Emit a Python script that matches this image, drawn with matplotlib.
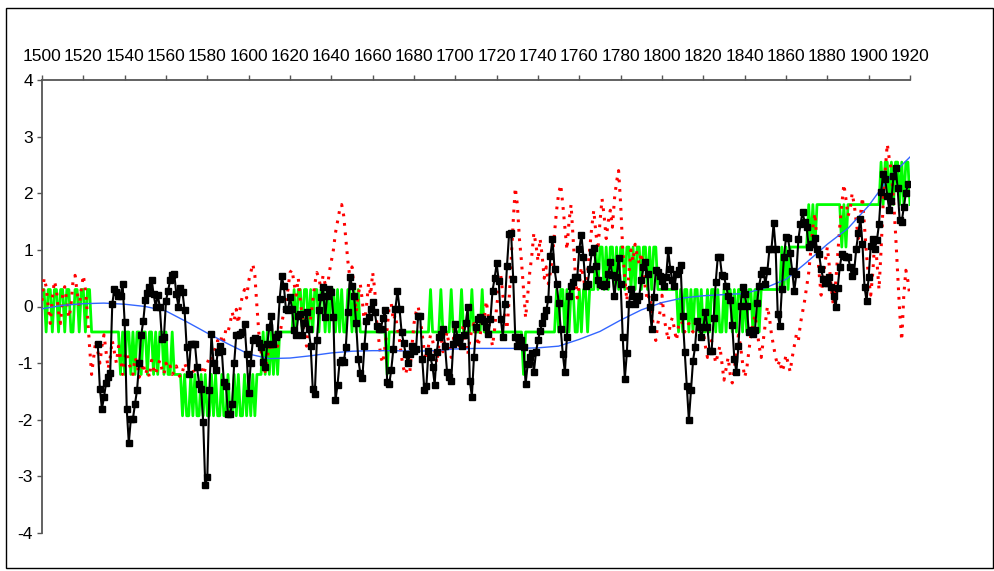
import numpy as np
import matplotlib
matplotlib.use('Agg')
import matplotlib.pyplot as plt
from matplotlib.patches import Rectangle

plt.rcParams['font.family'] = ['Liberation Sans', 'DejaVu Sans']
plt.rcParams['axes.unicode_minus'] = False

# --- data ---
black_start = 1527
black_vals = [
    -0.67, -1.45, -1.81,
    -1.60, -1.35, -1.25, -1.17, 0.04, 0.31, 0.25, 0.19, 0.19, 0.40,
    -0.28, -1.81, -2.41, -1.98, -1.98, -1.72, -1.47, -1.00, -0.50, -0.26,
    0.12, 0.24, 0.35, 0.47, 0.22, 0.00, 0.20, 0.00, -0.57, -0.54,
    0.10, 0.28, 0.46, 0.55, 0.57, 0.22, 0.00, 0.33, 0.25, -0.07,
    -0.72, -1.20, -0.66, -0.66, -0.66, -1.07, -1.36, -1.45, -2.04, -3.16,
    -3.01, -1.48, -0.48, -1.00, -1.13, -0.81, -0.69, -0.78, -1.34, -1.40,
    -1.90, -1.90, -1.72, -1.00, -0.50, -0.51, -0.48, -0.45, -0.31, -0.84,
    -1.53, -1.00, -0.60, -0.55, -0.57, -0.65, -0.72, -0.98, -1.07, -0.66,
    -0.37, -0.16, -0.66, -0.54, -0.48, 0.13, 0.53, 0.37, -0.04, -0.07,
    0.17, -0.04, -0.42, -0.51, -0.16, -0.13, -0.51, -0.30, -0.10, -0.39,
    -0.69, -1.45, -1.54, -0.60, -0.07, 0.16, 0.34, -0.19, 0.19, 0.31,
    0.26, -0.19, -1.66, -1.38, -0.98, -0.95, -0.98, -0.72, -0.10, 0.52,
    0.37, 0.19, -0.30, -0.92, -1.17, -1.27, -0.70, -0.25, -0.18, -0.05,
    0.08, -0.10, -0.34, -0.39, -0.39, -0.20, -0.07, -1.34, -1.37, -1.12,
    -0.75, -0.04, 0.28, -0.04, -0.45, -0.65, -0.84, -1.00, -0.84, -0.69,
    -0.78, -0.75, -0.16, -0.16, -0.93, -1.48, -1.40, -0.78, -0.90, -1.07,
    -1.38, -0.81, -0.54, -0.48, -0.40, -0.69, -1.16, -1.25, -1.32, -0.66,
    -0.31, -0.54, -0.62, -0.69, -0.51, -0.30, -0.01, -1.31, -1.59, -0.90,
    -0.36, -0.22, -0.19, -0.22, -0.25, -0.36, -0.48, -0.22, 0.28, 0.50,
    0.76, 0.45, -0.22, -0.54, 0.05, 0.72, 1.28, 1.29, 0.49, -0.54,
    -0.69, -0.54, -0.60, -0.72, -1.37, -1.02, -0.90, -0.83, -1.16, -0.81,
    -0.60, -0.43, -0.30, -0.16, -0.07, 0.13, 0.90, 1.19, 0.66, 0.40,
    0.07, -0.40, -0.84, -1.16, -0.54, 0.19, 0.37, 0.43, 0.52, 0.52,
    1.02, 1.27, 0.87, 0.37, 0.40, 0.66, 0.96, 1.04, 0.72, 0.46,
    0.40, 0.38, 0.37, 0.40, 0.57, 0.78, 0.55, 0.18, 0.52, 0.86,
    0.40, -0.54, -1.28, -0.82, 0.04, 0.31, 0.19, 0.04, 0.12, 0.19,
    0.46, 0.69, 0.78, 0.57, 0.00, -0.39, 0.17, 0.64, 0.61, 0.54,
    0.45, 0.37, 0.52, 1.00, 0.66, 0.46, 0.37, 0.57, 0.65, 0.73,
    -0.16, -0.80, -1.40, -2.01, -1.48, -0.97, -0.71, -0.25, -0.37, -0.53,
    -0.37, -0.10, -0.37, -0.79, -0.79, -0.20, 0.43, 0.88, 0.87, 0.55,
    0.53, 0.36, 0.19, 0.12, -0.33, -0.93, -1.15, -0.69, 0.01, 0.35,
    0.22, 0.01, -0.45, -0.42, -0.48, -0.42, 0.07, 0.37, 0.57, 0.65,
    0.40, 0.63, 1.02, 1.02, 1.47, 1.02, -0.14, -0.34, 0.31, 0.87,
    1.22, 1.21, 0.94, 0.63, 0.27, 0.57, 1.19, 1.45, 1.67, 1.49,
    1.40, 1.05, 1.10, 1.10, 1.21, 1.02, 0.93, 0.66, 0.49, 0.41,
    0.41, 0.52, 0.35, 0.18, -0.01, 0.33, 0.69, 0.92, 0.90, 0.87,
    0.88, 0.70, 0.53, 0.63, 1.02, 1.30, 1.55, 1.10, 0.34, 0.10,
    0.52, 1.07, 1.19, 1.02, 1.17, 1.46, 2.02, 2.34, 2.25, 1.96,
    1.70, 1.87, 2.30, 2.45, 2.10, 1.52, 1.49, 1.76, 2.00, 2.16,
]

red_start = 1500
red_vals = [
    0.10, 0.50, 0.35, 0.00, -0.30, 0.15, 0.45, 0.30, -0.10, -0.30,
    0.20, 0.35, 0.10, -0.20, 0.00, 0.45, 0.55, 0.25, 0.00, 0.30,
    0.55, 0.30, -0.15, -0.70, -1.20, -0.90, -0.60, -0.80, -1.00, -0.70,
    -0.50, -0.80, -1.10, -0.90, -0.60, -0.80, -1.00, -0.70, -0.90, -1.20,
    -0.90, -0.80, -1.00, -1.10, -1.20, -0.90, -1.00, -1.25, -1.15, -1.00,
    -1.20, -1.10, -1.25, -0.95, -1.10, -1.20, -1.05, -0.95, -1.10, -1.20,
    -1.00, -1.10, -1.05, -1.20, -1.15, -1.05, -1.20, -1.25, -1.15, -1.00,
    -1.10, -1.20, -1.15, -1.10, -1.20, -1.00, -1.10, -1.05, -1.20, -1.10,
    -1.00, -0.90, -0.95, -0.85, -0.70, -0.60, -0.75, -0.50, -0.60, -0.40,
    -0.45, -0.30, -0.10, -0.25, -0.05, -0.30, 0.00, 0.20, 0.30, 0.15,
    0.45, 0.60, 0.75, 0.55, 0.00, -0.50, -0.80, -1.00, -1.15, -0.90,
    -0.70, -0.80, -0.60, -0.75, -0.70, -0.50, -0.30, -0.10, 0.10, 0.30,
    0.60, 0.65, 0.40, 0.20, 0.50, 0.10, -0.20, -0.50, -0.70, -0.40,
    -0.20, 0.10, 0.40, 0.60, 0.50, 0.30, 0.55, 0.40, 0.30, 0.60,
    0.80, 1.00, 1.30, 1.50, 1.70, 1.80, 1.60, 1.20, 0.80, 0.50,
    0.70, 0.30, -0.10, 0.20, 0.40, 0.10, -0.30, 0.00, 0.40, 0.20,
    0.60, 0.30, -0.30, -0.60, -0.90, -1.00, -0.70, -0.40, 0.00, 0.05,
    -0.25, -0.15, -0.40, -0.60, -0.90, -1.10, -1.20, -1.00, -1.15, -0.70,
    -0.30, -0.10, 0.00, -0.20, -0.50, -0.80, -0.95, -0.70, -0.50, -0.60,
    -0.80, -1.00, -0.70, -0.50, -0.80, -0.60, -0.45, -0.70, -0.90, -0.60,
    -0.30, -0.50, -0.70, -0.50, -0.30, -0.60, -0.85, -0.60, -0.40, -0.30,
    -0.50, -0.70, -0.50, -0.30, -0.20, 0.10, -0.20, -0.50, -0.70, -0.40,
    0.00, 0.30, 0.55, 0.20, -0.20, -0.40, 0.10, 0.80, 1.50, 2.10,
    1.80, 1.20, 0.80, 0.30, -0.20, 0.20, 0.60, 0.90, 1.30, 1.10,
    0.80, 1.20, 0.90, 0.50, 0.70, 0.40, 0.60, 0.90, 1.30, 1.70,
    2.00, 2.15, 1.80, 1.40, 1.00, 1.50, 1.80, 1.20, 0.60, 0.15,
    0.40, 0.70, 0.50, 0.30, 0.60, 1.00, 1.40, 1.70, 1.30, 1.00,
    1.50, 1.90, 1.60, 1.20, 1.50, 1.70, 1.40, 1.90, 2.20, 2.40,
    1.80, 1.00, 0.50, 0.10, 0.60, 1.00, 0.80, 1.10, 0.90, 0.75,
    0.95, 0.60, 0.30, 0.10, 0.20, -0.10, -0.40, -0.60, -0.30, -0.10,
    0.20, -0.20, -0.40, -0.60, -0.30, -0.20, -0.40, -0.60, -0.35, -0.25,
    -0.30, -0.45, -0.35, -0.30, -0.40, -0.45, -0.30, -0.25, -0.40, -0.60,
    -0.45, -0.70, -0.90, -0.70, -0.60, -0.80, -1.00, -0.85, -0.70, -1.00,
    -1.30, -1.10, -0.90, -1.20, -1.35, -1.10, -0.80, -0.50, -0.70, -1.00,
    -1.25, -1.10, -0.80, -0.50, -0.30, -0.15, -0.40, -0.70, -0.90, -0.60,
    -0.30, 0.00, -0.20, -0.50, -0.70, -0.90, -1.05, -0.95, -1.15, -1.05,
    -0.85, -1.00, -1.15, -0.90, -0.70, -0.50, -0.60, -0.30, -0.10, 0.10,
    0.35, 0.60, 1.00, 1.40, 1.65, 1.10, 0.60, 0.20, 0.50, 0.80,
    1.05, 0.70, 0.30, 0.00, 0.40, 0.90, 1.40, 1.80, 2.16, 1.90,
    1.60, 1.70, 2.00, 1.80, 1.50, 1.20, 1.60, 1.93, 1.40, 0.90,
    0.50, 0.20, 0.60, 1.20, 0.80, 0.30, 1.00, 1.80, 2.40, 2.87,
    2.60, 2.40, 1.90, 1.30, 0.60, -0.10, -0.60, 0.20, 0.64, 0.45,
    0.17,
]

# green series only takes a few discrete levels; codes index into green_levels
green_start = 1500
green_levels = [-1.93, -1.2, -0.45, 0.3, 1.05, 1.8, 2.55]
green_codes = [
    3, 3, 2, 3, 3, 2, 3, 3, 2, 3,
    3, 2, 3, 3, 2, 2, 3, 3, 2, 3,
    3, 2, 3, 3, 2, 2, 2, 2, 2, 2,
    2, 2, 2, 2, 2, 2, 2, 2, 1, 2,
    1, 2, 2, 1, 2, 1, 2, 2, 1, 2,
    2, 1, 2, 2, 1, 2, 1, 2, 2, 1,
    2, 1, 1, 2, 1, 1, 1, 1, 0, 1,
    0, 0, 1, 0, 1, 0, 0, 1, 0, 1,
    0, 0, 1, 0, 1, 0, 0, 1, 0, 0,
    1, 0, 0, 1, 0, 1, 0, 0, 1, 0,
    1, 0, 1, 0, 1, 1, 1, 2, 1, 2,
    1, 2, 1, 2, 1, 2, 2, 2, 2, 2,
    2, 2, 3, 2, 3, 3, 2, 3, 3, 2,
    3, 2, 3, 3, 2, 3, 3, 2, 3, 2,
    3, 3, 2, 3, 2, 3, 2, 2, 3, 3,
    2, 3, 2, 3, 2, 2, 2, 2, 2, 2,
    2, 2, 2, 2, 2, 2, 2, 1, 2, 2,
    2, 2, 2, 2, 2, 2, 2, 2, 2, 2,
    2, 2, 2, 2, 2, 2, 2, 2, 3, 2,
    2, 2, 2, 3, 2, 2, 2, 2, 3, 2,
    2, 2, 2, 3, 2, 2, 2, 2, 3, 2,
    2, 2, 2, 3, 2, 2, 2, 2, 2, 2,
    2, 2, 2, 2, 2, 2, 2, 2, 2, 2,
    2, 2, 2, 1, 2, 2, 2, 2, 2, 2,
    2, 2, 2, 2, 2, 2, 2, 2, 2, 3,
    2, 3, 3, 2, 3, 2, 3, 3, 2, 2,
    3, 2, 3, 3, 2, 3, 3, 3, 4, 3,
    4, 4, 3, 4, 3, 4, 4, 3, 4, 3,
    4, 4, 3, 4, 4, 3, 4, 3, 4, 4,
    3, 4, 4, 3, 4, 3, 4, 4, 3, 3,
    3, 3, 3, 3, 3, 3, 3, 3, 2, 3,
    2, 3, 3, 2, 3, 2, 3, 3, 2, 3,
    2, 2, 3, 2, 3, 3, 2, 3, 2, 2,
    3, 2, 3, 3, 2, 3, 2, 3, 3, 2,
    3, 2, 3, 3, 2, 3, 3, 2, 3, 3,
    3, 3, 3, 3, 3, 3, 3, 3, 4, 3,
    4, 3, 4, 4, 4, 4, 4, 4, 4, 4,
    4, 5, 4, 5, 4, 5, 5, 5, 5, 5,
    5, 5, 5, 5, 5, 5, 5, 4, 5, 4,
    5, 5, 5, 5, 5, 5, 5, 5, 5, 5,
    5, 5, 5, 5, 5, 5, 6, 5, 6, 6,
    5, 6, 5, 6, 6, 5, 6, 5, 6, 6,
    5,
]

# smoothed curve
blue_years = [1500, 1510, 1520, 1530, 1540, 1550, 1560, 1570, 1580, 1590,
              1600, 1610, 1620, 1630, 1640, 1650, 1660, 1670, 1680, 1690,
              1700, 1710, 1720, 1730, 1740, 1750, 1760, 1770, 1780, 1790,
              1800, 1810, 1820, 1830, 1840, 1850, 1860, 1870, 1880, 1890,
              1900, 1910, 1920]
blue_vals = [-0.04, 0.02, 0.05, 0.06, 0.04, 0.00, -0.08, -0.27, -0.47, -0.66,
             -0.84, -0.92, -0.91, -0.87, -0.82, -0.79, -0.78, -0.78, -0.79, -0.78,
             -0.75, -0.74, -0.74, -0.74, -0.73, -0.70, -0.58, -0.44, -0.24, -0.06,
             0.07, 0.15, 0.19, 0.21, 0.23, 0.33, 0.48, 0.78, 1.10, 1.38,
             1.78, 2.28, 2.64]

x_ticks = list(range(1500, 1921, 20))
y_ticks = list(range(-4, 5))

# --- figure ---
W, H = 995, 571
fig = plt.figure(figsize=(W / 100, H / 100), dpi=100)
fig.patch.set_facecolor('white')
ax = fig.add_axes([42 / W, 38 / H, 868 / W, 453 / H])

black_years = np.arange(black_start, black_start + len(black_vals))
red_years = np.arange(red_start, red_start + len(red_vals))
green_years = np.arange(green_start, green_start + len(green_codes))
green_vals = [green_levels[c] for c in green_codes]

ax.plot(green_years, green_vals, color='#00ff00', lw=2.0, zorder=2)
ax.plot(red_years, red_vals, color='#ff0000', lw=2.2,
        linestyle=(0, (0.9, 2.2)), zorder=3)
ax.plot(blue_years, blue_vals, color='#3366ff', lw=1.0, zorder=4)
ax.plot(black_years, black_vals, color='black', lw=1.5, marker='s',
        ms=4.3, mec='black', mfc='black', zorder=5)

ax.set_xlim(1500, 1920)
ax.set_ylim(-4, 4)
ax.set_xticks(x_ticks)
ax.set_yticks(y_ticks)

for side in ['right', 'bottom']:
    ax.spines[side].set_visible(False)
for side in ['top', 'left']:
    ax.spines[side].set_color('#555555')
    ax.spines[side].set_linewidth(1.3)

ax.xaxis.tick_top()
ax.tick_params(axis='x', direction='out', length=3.5, width=1, color='#555555',
               pad=8, labelsize=12.5)
ax.tick_params(axis='y', direction='out', length=3.5, width=1, color='#555555',
               pad=3, labelsize=12.5)

# outer chart border
fig.patches.append(Rectangle((6 / W, 3 / H), 987 / W, 560 / H,
                             transform=fig.transFigure, fill=False,
                             ec='black', lw=1.0))

fig.savefig('out.png', dpi=100, facecolor='white')
